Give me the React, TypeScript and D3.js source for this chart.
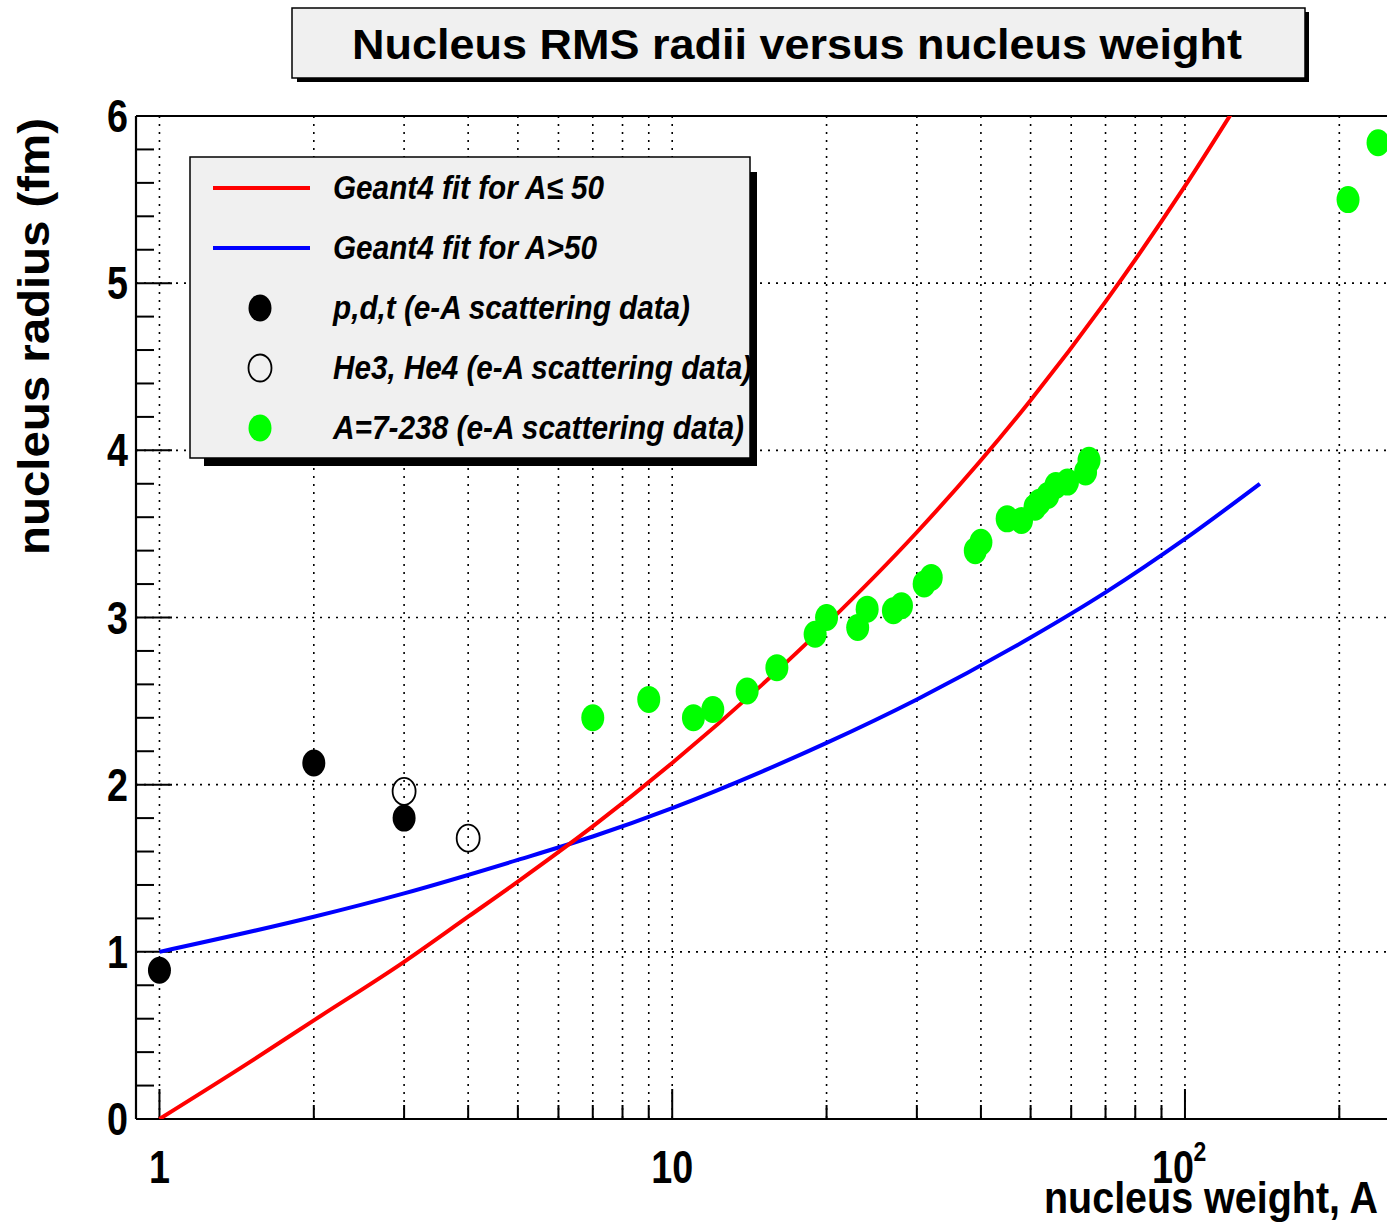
import React from "react";
import * as d3 from "d3";

// ---- data ----
const pdtA = [1, 2, 3];
const pdtR = [0.89, 2.13, 1.8];

const heA = [3, 4];
const heR = [1.96, 1.68];

const nucA = [7, 9, 11, 12, 14, 16, 19, 20, 23, 24, 27, 28, 31, 32, 39, 40, 45, 48, 51, 52, 54, 56, 59, 64, 65, 208, 238];
const nucR = [2.4, 2.51, 2.4, 2.45, 2.56, 2.7, 2.9, 3.0, 2.94, 3.05, 3.04, 3.07, 3.2, 3.24, 3.4, 3.45, 3.59, 3.58, 3.66, 3.69, 3.73, 3.79, 3.81, 3.87, 3.94, 5.5, 5.84];

const redA = [1, 1.5, 2, 3, 4, 5, 7, 10, 15, 20, 30, 50, 70, 100, 130];
const redR = [0, 0.34, 0.59, 0.94, 1.21, 1.42, 1.75, 2.13, 2.6, 2.96, 3.51, 4.3, 4.89, 5.58, 6.13];

const blueA = [1, 2, 3, 5, 7, 10, 15, 20, 30, 50, 70, 100, 140];
const blueR = [1.0, 1.21, 1.35, 1.55, 1.69, 1.86, 2.08, 2.25, 2.51, 2.88, 3.15, 3.47, 3.8];

const xMajor = [1, 10, 100];
const xMinor = [2, 3, 4, 5, 6, 7, 8, 9, 20, 30, 40, 50, 60, 70, 80, 90, 200];
const yMajor = [0, 1, 2, 3, 4, 5, 6];

const legendItems = [
  { label: "Geant4 fit for A\u2264 50", kind: "line", color: "#ff0000", len: 271 },
  { label: "Geant4 fit for A>50", kind: "line", color: "#0000ff", len: 264 },
  { label: "p,d,t (e-A scattering data)", kind: "filled", color: "#000000", len: 357 },
  { label: "He3, He4 (e-A scattering data)", kind: "open", color: "#000000", len: 419 },
  { label: "A=7-238 (e-A scattering data)", kind: "filled", color: "#00ff00", len: 411 },
];

const FONT = "'Liberation Sans Narrow', 'Liberation Sans', Arial, sans-serif";
const SX = 0.82; // horizontal condensing to mimic a narrow face

export default function App() {
  const W = 1387;
  const H = 1222;
  const left = 136, right = 1389, top = 116, bottom = 1119;

  const x = d3.scaleLog().domain([0.9, 250]).range([left, right]);
  const y = d3.scaleLinear().domain([0, 6]).range([bottom, top]);

  const mkLine = (A: number[], R: number[]) =>
    d3
      .line<number>()
      .x((i) => x(A[i]))
      .y((i) => y(R[i]))
      .curve(d3.curveMonotoneX)(A.map((_, i) => i)) || "";

  const yMinor: number[] = d3.range(0, 6.001, 0.2).filter((v) => Math.abs(v - Math.round(v)) > 1e-6);

  const rx = 11.5, ry = 13.5;

  return (
    <svg
      width={W}
      height={H}
      style={{ position: "absolute", left: 0, top: 0, background: "#fff" }}
      fontFamily={FONT}
    >
      <defs>
        <clipPath id="plotclip">
          <rect x={left} y={top} width={right - left} height={bottom - top} />
        </clipPath>
      </defs>
      <rect x={0} y={0} width={W} height={H} fill="#fff" />

      {/* grid */}
      <g stroke="#000" strokeWidth={1.6} strokeDasharray="2 6">
        {[...xMajor, ...xMinor].map((v) => (
          <line key={"gx" + v} x1={x(v)} x2={x(v)} y1={top} y2={bottom} />
        ))}
        {[1, 2, 3, 4, 5].map((v) => (
          <line key={"gy" + v} x1={left} x2={right} y1={y(v)} y2={y(v)} />
        ))}
      </g>

      {/* ticks */}
      <g stroke="#000" strokeWidth={2}>
        {yMajor.map((v) => (
          <line key={"ty" + v} x1={left} x2={left + 36} y1={y(v)} y2={y(v)} />
        ))}
        {yMinor.map((v) => (
          <line key={"tym" + v} x1={left} x2={left + 18} y1={y(v)} y2={y(v)} />
        ))}
        {xMajor.map((v) => (
          <line key={"tx" + v} x1={x(v)} x2={x(v)} y1={bottom} y2={bottom - 30} />
        ))}
        {xMinor.map((v) => (
          <line key={"txm" + v} x1={x(v)} x2={x(v)} y1={bottom} y2={bottom - 14} />
        ))}
      </g>

      {/* frame */}
      <g stroke="#000" strokeWidth={2.2} fill="none">
        <line x1={left} x2={right} y1={top} y2={top} />
        <line x1={left} x2={right} y1={bottom} y2={bottom} />
        <line x1={left} x2={left} y1={top} y2={bottom} />
      </g>

      {/* curves */}
      <g clipPath="url(#plotclip)" fill="none" strokeWidth={4}>
        <path d={mkLine(blueA, blueR)} stroke="#0000ff" />
        <path d={mkLine(redA, redR)} stroke="#ff0000" />
      </g>

      {/* data points */}
      <g>
        {nucA.map((a, i) => (
          <ellipse key={"n" + i} cx={x(a)} cy={y(nucR[i])} rx={rx} ry={ry} fill="#00ff00" />
        ))}
        {pdtA.map((a, i) => (
          <ellipse key={"p" + i} cx={x(a)} cy={y(pdtR[i])} rx={rx} ry={ry} fill="#000" />
        ))}
        {heA.map((a, i) => (
          <ellipse key={"h" + i} cx={x(a)} cy={y(heR[i])} rx={rx} ry={ry} fill="none" stroke="#000" strokeWidth={1.8} />
        ))}
      </g>

      {/* y tick labels */}
      <g fontWeight="bold" fontSize={46} textAnchor="end">
        {yMajor.map((v) => (
          <text key={"ly" + v} transform={`translate(128,${y(v) + 16}) scale(${SX},1)`}>
            {v}
          </text>
        ))}
      </g>

      {/* x tick labels */}
      <g fontWeight="bold" fontSize={46} textAnchor="middle">
        <text transform={`translate(${x(1)},1183) scale(${SX},1)`}>1</text>
        <text transform={`translate(${x(10)},1183) scale(${SX},1)`}>10</text>
        <text transform={`translate(${x(100) - 12},1183) scale(${SX},1)`}>10</text>
        <text transform={`translate(${x(100) + 15},1161) scale(${SX},1)`} fontSize={28}>2</text>
      </g>

      {/* axis titles */}
      <text
        x={1378}
        y={1213}
        fontWeight="bold"
        fontSize={44}
        textAnchor="end"
        textLength={334}
        lengthAdjust="spacingAndGlyphs"
      >
        nucleus weight, A
      </text>
      <text
        transform={`translate(49,118) rotate(-90)`}
        fontWeight="bold"
        fontSize={44}
        textAnchor="end"
        textLength={437}
        lengthAdjust="spacingAndGlyphs"
      >
        nucleus radius (fm)
      </text>

      {/* title box */}
      <polygon points="297,78 1305,78 1305,12 1309,12 1309,82 297,82" fill="#000" />
      <rect x={292} y={8} width={1013} height={70} fill="#f0f0f0" stroke="#000" strokeWidth={1.5} />
      <text
        x={352}
        y={59}
        fontWeight="bold"
        fontSize={42}
        textLength={890}
        lengthAdjust="spacingAndGlyphs"
      >
        Nucleus RMS radii versus nucleus weight
      </text>

      {/* legend */}
      <polygon points="204,458 750,458 750,172 757,172 757,466 204,466" fill="#000" />
      <rect x={190} y={157} width={560} height={301} fill="#f0f0f0" stroke="#000" strokeWidth={1.5} />
      {legendItems.map((it, i) => {
        const cy = 188 + i * 60;
        return (
          <g key={"lg" + i}>
            {it.kind === "line" ? (
              <line x1={213} x2={310} y1={cy} y2={cy} stroke={it.color} strokeWidth={4} />
            ) : it.kind === "filled" ? (
              <ellipse cx={260} cy={cy} rx={rx} ry={ry} fill={it.color} />
            ) : (
              <ellipse cx={260} cy={cy} rx={rx} ry={ry} fill="none" stroke={it.color} strokeWidth={1.8} />
            )}
            <text
              x={333}
              y={cy + 11}
              fontSize={33}
              fontWeight="bold"
              fontStyle="italic"
              textLength={it.len}
              lengthAdjust="spacingAndGlyphs"
            >
              {it.label}
            </text>
          </g>
        );
      })}
    </svg>
  );
}
